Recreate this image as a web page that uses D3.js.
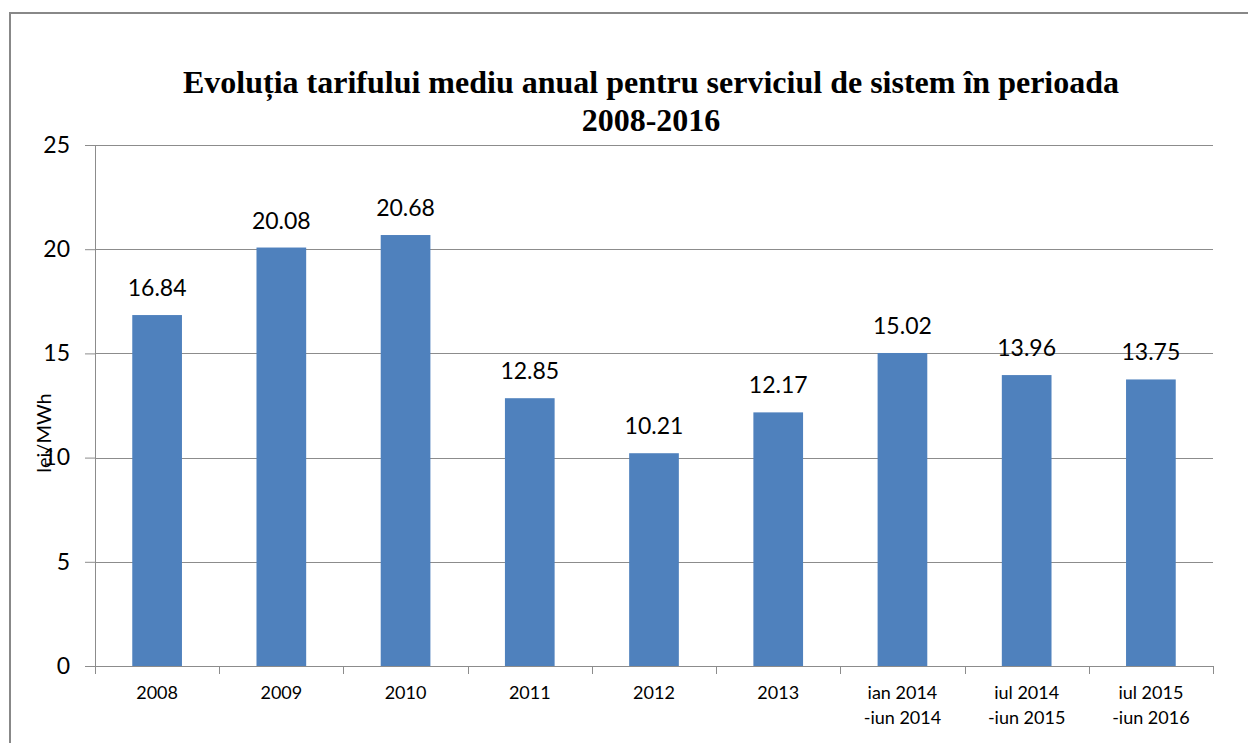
<!DOCTYPE html>
<html>
<head>
<meta charset="utf-8">
<script src="https://cdn.jsdelivr.net/npm/d3@7"></script>
<style>
  body { margin: 0; background: #fff; }
  svg { display: block; }
</style>
</head>
<body>
<svg id="chart"></svg>
<script>
// date
const categories = ["2008", "2009", "2010", "2011", "2012", "2013",
  "ian 2014\n-iun 2014", "iul 2014\n-iun 2015", "iul 2015\n-iun 2016"];
const values = [16.84, 20.08, 20.68, 12.85, 10.21, 12.17, 15.02, 13.96, 13.75];
const yTicks = [0, 5, 10, 15, 20, 25];
const titleLines = ["Evoluția tarifului mediu anual pentru serviciul de sistem în perioada", "2008-2016"];
const yLabel = "lei/MWh";

const W = 1248, H = 743;
const margin = {top: 145, right: 35, bottom: 77, left: 95};
const width = W - margin.left - margin.right;
const height = H - margin.top - margin.bottom;
const sansFont = "Lato, 'Open Sans', sans-serif";

const svg = d3.select("#chart").attr("width", W).attr("height", H);

// cadru exterior
svg.append("rect")
  .attr("x", 10).attr("y", 13)
  .attr("width", W + 20).attr("height", H + 20)
  .attr("fill", "none").attr("stroke", "#888").attr("stroke-width", 2);

// titlu
svg.append("text")
  .attr("x", 651).attr("y", 93)
  .attr("text-anchor", "middle")
  .style("font-family", "'Liberation Serif', 'Times New Roman', serif")
  .style("font-weight", "bold").style("font-size", "32px")
  .selectAll("tspan").data(titleLines).join("tspan")
    .attr("x", 651).attr("dy", (d, i) => i ? 38 : 0)
    .text(d => d);

const chart = svg.append("g")
  .attr("transform", "translate(" + margin.left + "," + margin.top + ")");

const x = d3.scaleBand().domain(categories).range([0, width]).paddingInner(0.6).paddingOuter(0.3);
const xTicksScale = d3.scaleLinear().domain([0, categories.length]).range([0, width]);
const y = d3.scaleLinear().domain([0, 25]).range([height, 0]);

// linii de grila
chart.append("g").selectAll("line").data(yTicks.filter(d => d > 0)).join("line")
  .attr("x1", 0).attr("x2", width)
  .attr("y1", d => Math.round(y(d)) + 0.5).attr("y2", d => Math.round(y(d)) + 0.5)
  .attr("stroke", "#8c8c8c").attr("stroke-width", 1);

// bare
chart.append("g").selectAll("rect").data(values).join("rect")
  .attr("x", (d, i) => x(categories[i]))
  .attr("y", d => y(d))
  .attr("width", x.bandwidth())
  .attr("height", d => height - y(d))
  .attr("fill", "#4f81bd");

// etichete valori
chart.append("g").selectAll("text").data(values).join("text")
  .attr("x", (d, i) => x(categories[i]) + x.bandwidth() / 2)
  .attr("y", d => y(d) - 19)
  .attr("text-anchor", "middle")
  .style("font-family", sansFont).style("font-size", "23px")
  .attr("fill", "#000")
  .text(d => d.toFixed(2));

// axa y
const yAxis = chart.append("g")
  .call(d3.axisLeft(y).tickValues(yTicks).tickSize(10).tickPadding(15).tickFormat(d3.format("d")));
yAxis.select(".domain").attr("stroke", "#8c8c8c").attr("d", "M0.5," + height + "V0");
yAxis.selectAll(".tick line").attr("stroke", "#8c8c8c");
yAxis.selectAll(".tick text")
  .style("font-family", sansFont).style("font-size", "23px").attr("fill", "#000");

// axa x
const xAxis = chart.append("g").attr("transform", "translate(0," + height + ")");
xAxis.append("line").attr("x1", 0).attr("x2", width).attr("y1", 0.5).attr("y2", 0.5)
  .attr("stroke", "#8c8c8c");
xAxis.selectAll(".xtick").data(d3.range(categories.length + 1)).join("line")
  .attr("x1", d => Math.round(xTicksScale(d)) + 0.5).attr("x2", d => Math.round(xTicksScale(d)) + 0.5)
  .attr("y1", 0).attr("y2", 8).attr("stroke", "#8c8c8c");
xAxis.selectAll(".xlab").data(categories).join("text")
  .attr("x", d => x(d) + x.bandwidth() / 2)
  .attr("y", 33)
  .attr("text-anchor", "middle")
  .style("font-family", sansFont).style("font-size", "18px")
  .attr("fill", "#000")
  .selectAll("tspan").data(d => d.split("\n")).join("tspan")
    .attr("x", function() { return d3.select(this.parentNode).attr("x"); })
    .attr("dy", (d, i) => i ? 25 : 0)
    .text(d => d);

// eticheta axa y
svg.append("text")
  .attr("transform", "translate(51,433) rotate(-90)")
  .attr("text-anchor", "middle")
  .style("font-family", sansFont).style("font-size", "20px")
  .attr("fill", "#000")
  .text(yLabel);
</script>
</body>
</html>
